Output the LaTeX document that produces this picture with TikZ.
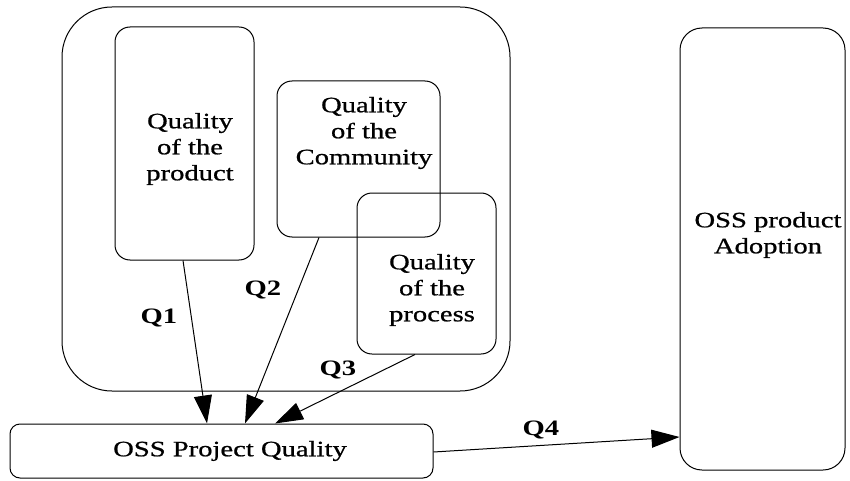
\documentclass[tikz,border=0pt]{standalone}
\usepackage{fontspec}
\setmainfont{Liberation Serif}[FakeStretch=1.3]
\newfontfamily\boxfont{Liberation Serif}[FakeStretch=1.3,FakeBold=0.8]
\usetikzlibrary{arrows.meta,positioning}
\tikzstyle{qbox}=[draw,rectangle,line width=1pt,inner sep=0pt]
\tikzstyle{inner qbox} = [qbox, rounded corners=15pt]
\tikzstyle{caption} = [font=\boxfont\fontsize{22}{26}\selectfont, align=center, inner sep=0pt]
\tikzstyle{qlabel} = [font=\fontsize{22}{26}\selectfont\bfseries, inner sep=0pt]
\tikzstyle{edge} = [draw,line width=1pt,-{Triangle[length=28pt,width=18pt]}]

\begin{document}
\begin{tikzpicture}[x=1pt,y=-1pt]
    \useasboundingbox (0,0) rectangle (850,481);
    % First we draw the boxes
    \node[qbox, rounded corners=50pt, minimum width=448pt, minimum height=384pt] (proj) at (286,199) {};
    \node[inner qbox, minimum width=139pt, minimum height=233pt] (prod) at (184.5,143.5) {};
    \node[inner qbox, minimum width=163pt, minimum height=156pt] (comm) at (358.5,159) {};
    \node[inner qbox, minimum width=139pt, minimum height=161pt] (proc) at (426.5,273.5) {};
    \node[qbox, rounded corners=10pt, minimum width=423pt, minimum height=54pt] (opq) at (221.5,451) {};
    \node[qbox, rounded corners=22pt, minimum width=165pt, minimum height=442pt] (adopt) at (762.5,249) {};

    % Then the texts in them
    \node[caption] (prodtext) at (190,149) {Quality\\of the\\product};
    \node[caption] (commtext) at (364,133) {Quality\\of the\\Community};
    \node[caption] (proctext) at (432,290) {Quality\\of the\\process};
    \node[caption] (opqtext) at (230,451) {OSS Project Quality};
    \node[caption] (adopttext) at (768,235) {OSS product\\Adoption};

    % Connect boxes with arrows
    \path[edge] ([xshift=-1.5pt]prod.south) -- ([xshift=-14.5pt]opq.north);
    \path[edge] ([xshift=-39.5pt]comm.south) -- ([xshift=23.5pt]opq.north);
    \path[edge] ([xshift=-11.5pt]proc.south) -- ([xshift=53.5pt]opq.north);
    \path[edge] ([yshift=-1pt]opq.east) -- ([yshift=-188pt]adopt.west);

    \foreach \pos/\name in {{(159,318)/Q1}, {(263,290)/Q2}, {(338,370)/Q3}, {(541,430)/Q4}}
        \node[qlabel] (\name) at \pos {\name};
\end{tikzpicture}
\end{document}
